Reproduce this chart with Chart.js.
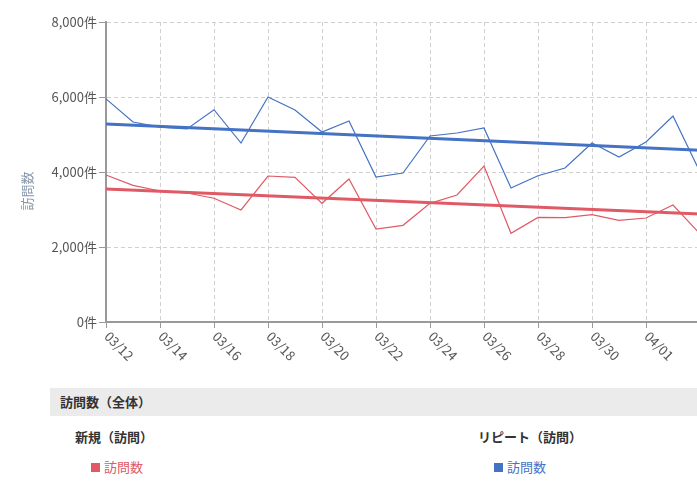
<!DOCTYPE html>
<html lang="ja">
<head>
<meta charset="utf-8">
<script src="https://cdn.jsdelivr.net/npm/chart.js@4.4.1/dist/chart.umd.min.js"></script>
<style>
  html, body { margin: 0; padding: 0; width: 697px; height: 504px; overflow: hidden; background: #fff;
    font-family: "Noto Sans CJK JP", "Noto Sans", sans-serif; }
  #wrap { position: absolute; left: 0; top: 0; width: 712px; height: 380px; }
  .bar { position: absolute; left: 50px; top: 388px; width: 660px; height: 28px; background: #ebebeb;
    font-size: 13px; font-weight: bold; color: #333; line-height: 28px; padding-left: 10px; box-sizing: border-box; }
  .grp { position: absolute; font-size: 13px; font-weight: bold; color: #333; line-height: 18px; }
  .leg { position: absolute; font-size: 13px; line-height: 18px; }
  .sq { display: inline-block; width: 9px; height: 9px; margin-right: 4px; vertical-align: 0px; }
</style>
</head>
<body>
<div id="wrap"><canvas id="c" width="712" height="380"></canvas></div>
<div class="bar">訪問数（全体）</div>
<div class="grp" style="left:75px; top:428px;">新規（訪問）</div>
<div class="grp" style="left:478px; top:428px;">リピート（訪問）</div>
<div class="leg" style="left:91px; top:458px; color:#e05a66;"><span class="sq" style="background:#e05a66"></span>訪問数</div>
<div class="leg" style="left:494px; top:458px; color:#4472c4;"><span class="sq" style="background:#4472c4"></span>訪問数</div>
<script>
const dateLabels = ["03/12","03/13","03/14","03/15","03/16","03/17","03/18","03/19","03/20","03/21","03/22","03/23","03/24","03/25","03/26","03/27","03/28","03/29","03/30","03/31","04/01","04/02","04/03"];
const newVisits = [3920, 3645, 3493, 3440, 3300, 2987, 3893, 3858, 3165, 3813, 2480, 2578, 3165, 3387, 4160, 2365, 2790, 2782, 2862, 2712, 2773, 3120, 2350];
const repeatVisits = [5950, 5333, 5195, 5147, 5661, 4773, 6000, 5653, 5067, 5360, 3867, 3973, 4960, 5040, 5173, 3573, 3900, 4107, 4773, 4400, 4800, 5493, 4000];
const newTrendEnds = [3547, 2877];
const repeatTrendEnds = [5280, 4583];
const yTicks = [0, 2000, 4000, 6000, 8000];
const yTitle = "訪問数";

const RED = "#e05a66", BLUE = "#4472c4";
const n = dateLabels.length;
function trend(ends) { const a = new Array(n).fill(null); a[0] = ends[0]; a[n - 1] = ends[1]; return a; }

const labelPlugin = {
  id: "customLabels",
  afterDraw(chart) {
    const ctx = chart.ctx, xs = chart.scales.x;
    ctx.save();
    ctx.font = "13px 'Noto Sans CJK JP'";
    ctx.fillStyle = "#555";
    ctx.textAlign = "left";
    ctx.textBaseline = "middle";
    xs.ticks.forEach((t, i) => {
      const x = xs.getPixelForTick(i);
      ctx.save();
      ctx.translate(x + 1, xs.top + 12);
      ctx.rotate(Math.PI / 4);
      ctx.fillText(dateLabels[t.value], 0, 0);
      ctx.restore();
    });
    ctx.translate(27, 191);
    ctx.rotate(-Math.PI / 2);
    ctx.textAlign = "center";
    ctx.fillStyle = "#8797ad";
    ctx.fillText(yTitle, 0, 0);
    ctx.restore();
  }
};

new Chart(document.getElementById("c"), {
  type: "line",
  data: {
    labels: dateLabels,
    datasets: [
      { data: trend(repeatTrendEnds), borderColor: BLUE, borderWidth: 3, spanGaps: true, pointRadius: 0, order: 0 },
      { data: trend(newTrendEnds), borderColor: RED, borderWidth: 3, spanGaps: true, pointRadius: 0, order: 1 },
      { data: repeatVisits, borderColor: BLUE, borderWidth: 1.2, pointRadius: 0, tension: 0, order: 2 },
      { data: newVisits, borderColor: RED, borderWidth: 1.2, pointRadius: 0, tension: 0, order: 3 }
    ]
  },
  options: {
    responsive: false,
    animation: false,
    layout: { padding: { top: 22, right: 12, left: 0, bottom: 0 } },
    plugins: { legend: { display: false }, tooltip: { enabled: false } },
    scales: {
      x: {
        afterBuildTicks: s => { s.ticks = s.ticks.filter((t, i) => i % 2 === 0); },
        afterFit: s => { s.height = 58; },
        ticks: { display: false, autoSkip: false },
        grid: { color: "#d0d0d0", tickColor: "#999", tickLength: 6, drawTicks: true },
        border: { color: "#999", width: 2, dash: [4, 3] }
      },
      y: {
        min: 0, max: 8000,
        afterBuildTicks: s => { s.ticks = yTicks.map(v => ({ value: v })); },
        afterFit: s => { s.width = 106; },
        ticks: { callback: v => v.toLocaleString("en-US") + "件", color: "#555", padding: 2,
          font: { size: 13, family: "'Noto Sans CJK JP'" } },
        grid: { color: "#d0d0d0", tickColor: "#999", tickLength: 7, drawTicks: true },
        border: { color: "#999", width: 2, dash: [4, 3] }
      }
    }
  },
  plugins: [labelPlugin]
});
</script>
</body>
</html>
